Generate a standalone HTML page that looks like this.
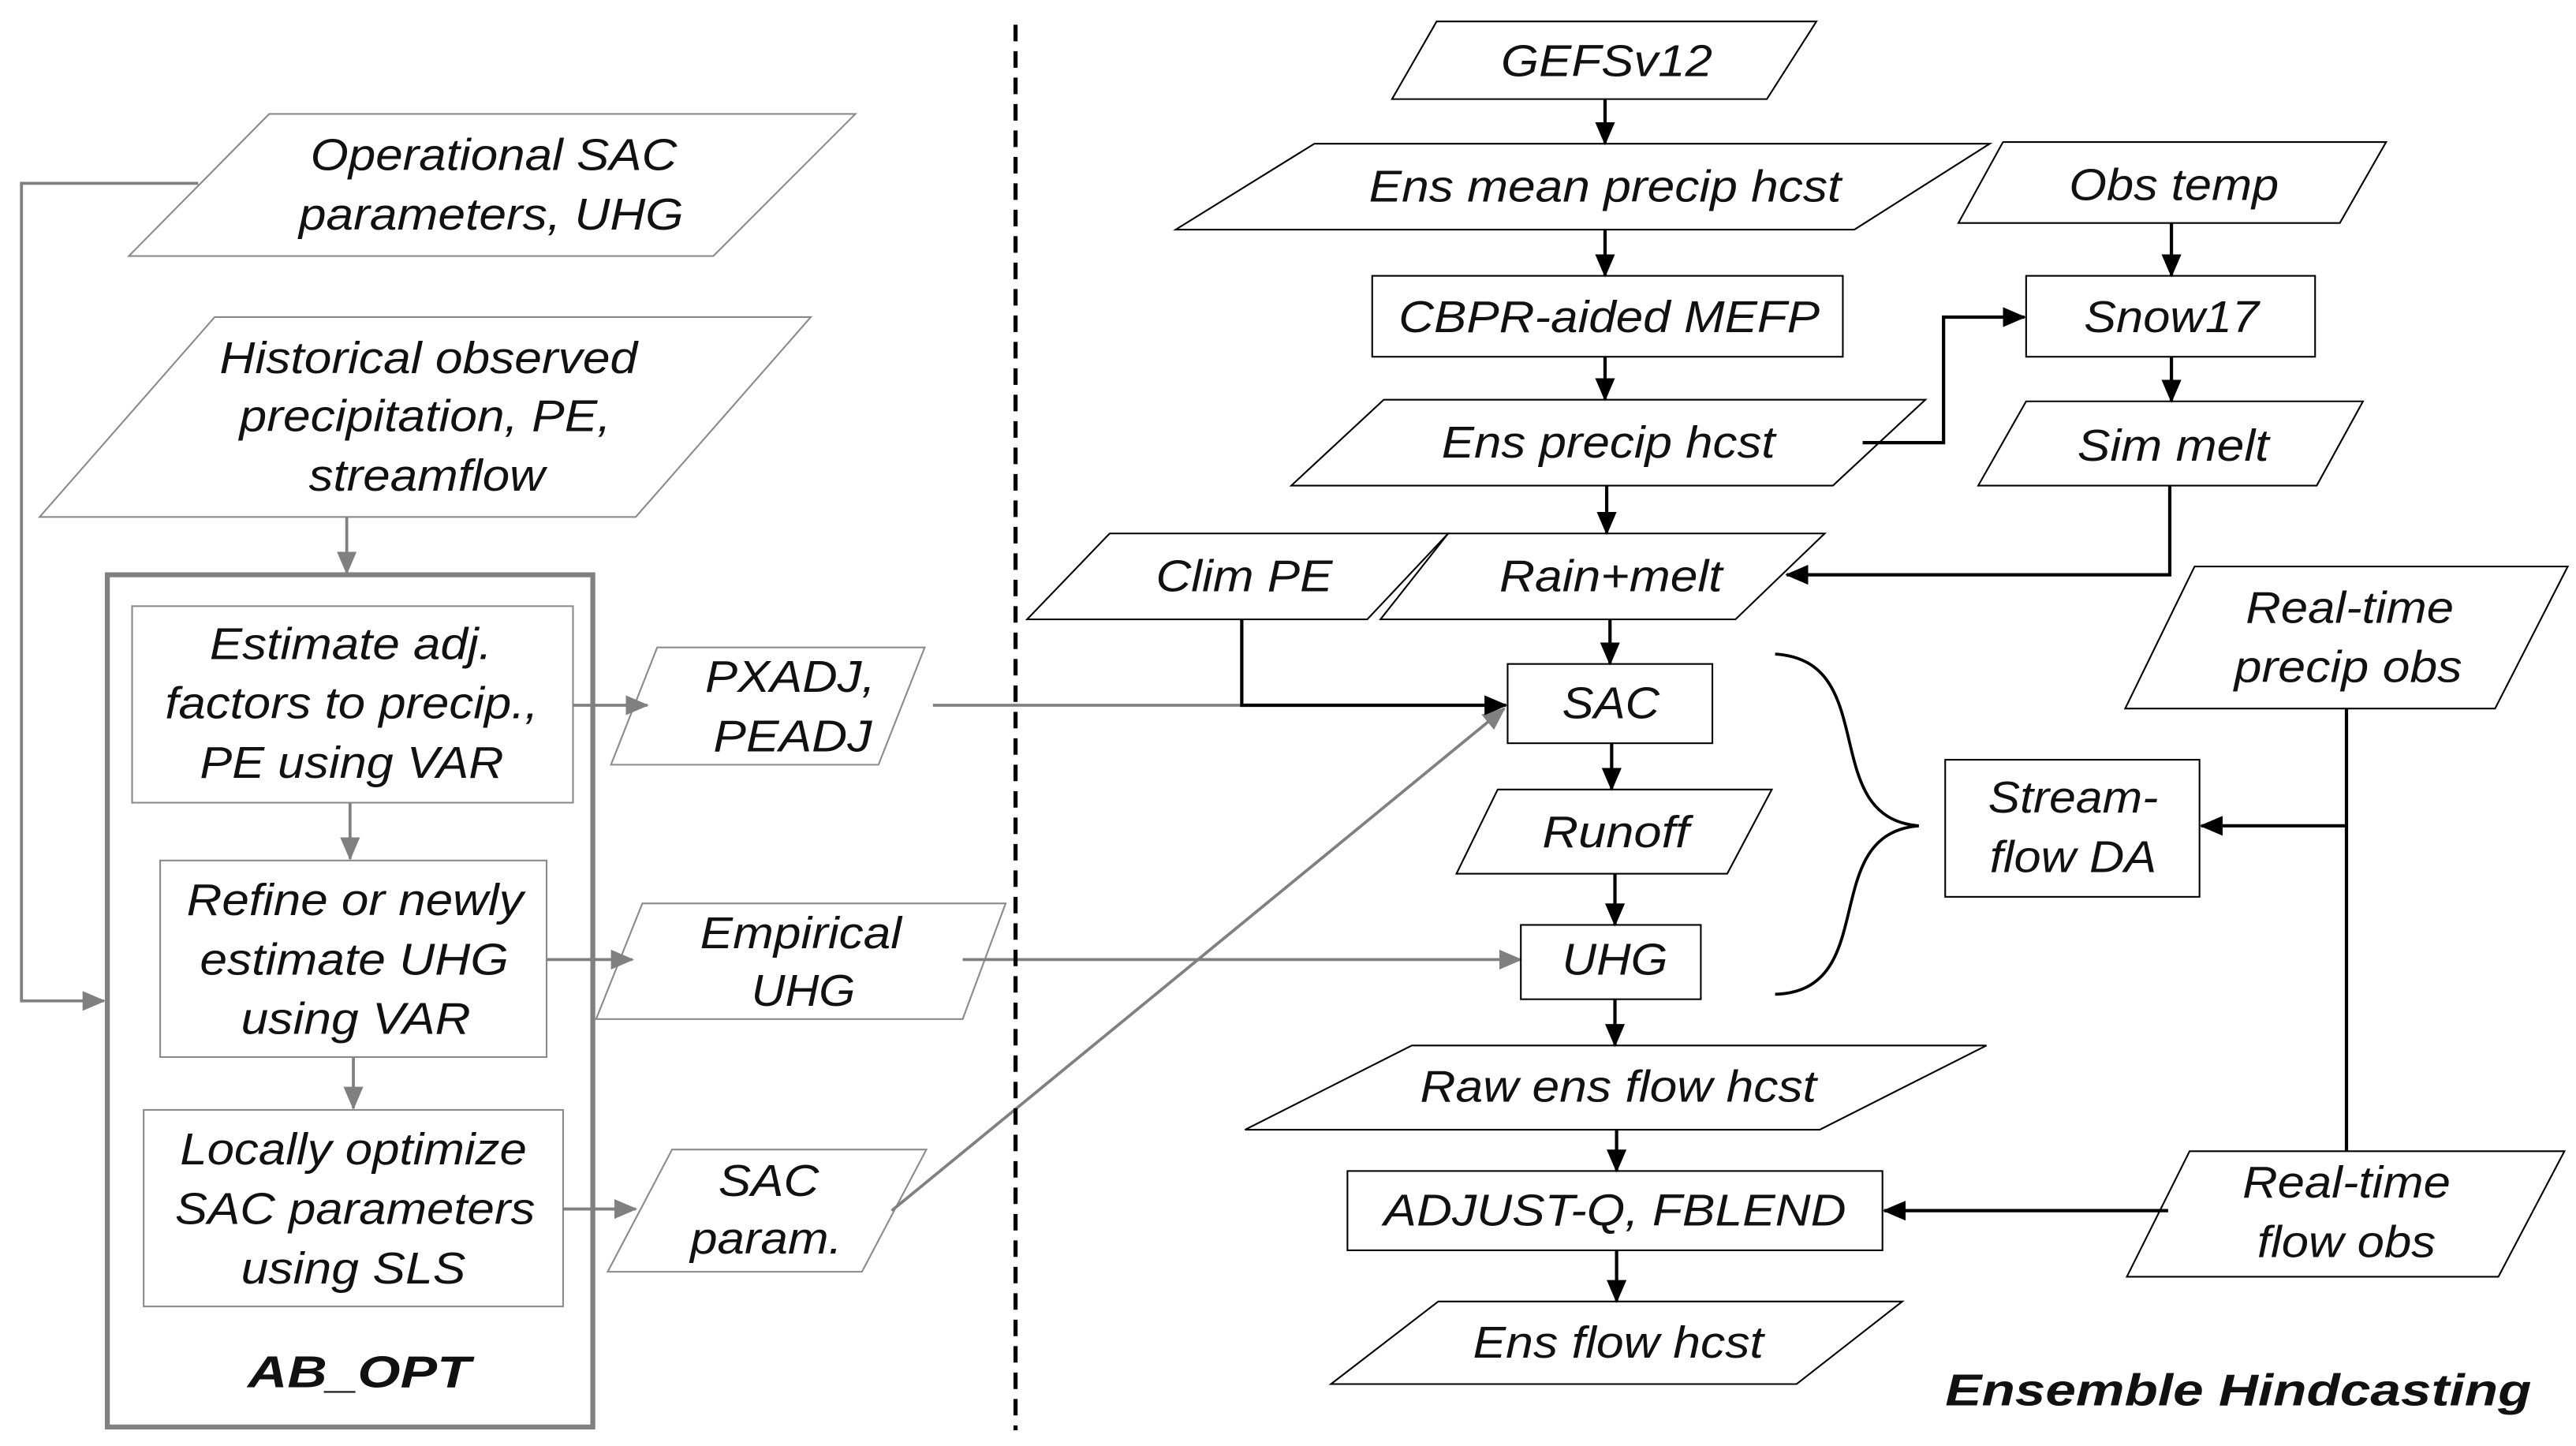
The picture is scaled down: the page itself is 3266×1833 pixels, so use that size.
<!DOCTYPE html>
<html><head><meta charset="utf-8"><style>
html,body{margin:0;padding:0;background:#fff;}
svg{display:block;}
text{font-family:"Liberation Sans",sans-serif;font-style:italic;font-size:27px;fill:#111;}
</style></head><body>
<svg width="3266" height="1833" viewBox="0 0 1560 875.5" preserveAspectRatio="none" xmlns="http://www.w3.org/2000/svg">
<defs>
<marker id="ab" markerWidth="14" markerHeight="12" refX="13" refY="6" orient="auto" markerUnits="userSpaceOnUse"><path d="M0,0 L14,6 L0,12 Z" fill="#000"/></marker>
<marker id="ag" markerWidth="14" markerHeight="12" refX="13" refY="6" orient="auto" markerUnits="userSpaceOnUse"><path d="M0,0 L14,6 L0,12 Z" fill="#808080"/></marker>
</defs>
<g fill="none" stroke="#8a8a8a" stroke-width="1">
<polygon points="163,69 518,69 432,155 78,155"/>
<polygon points="130,192 491,192 385,313 24,313"/>
<rect x="80" y="367" width="267" height="119"/>
<rect x="97" y="521" width="234" height="119"/>
<rect x="87" y="672" width="254" height="119"/>
<polygon points="398,392 560,392 532,463 370,463"/>
<polygon points="389,547 609,547 583,617 361,617"/>
<polygon points="407,696 561,696 522,770 368,770"/>
</g>
<rect x="65" y="348" width="294" height="516" fill="none" stroke="#808080" stroke-width="3"/>
<g fill="none" stroke="#808080" stroke-width="1.8">
<polyline points="120,111 13,111 13,606 63,606" marker-end="url(#ag)"/>
<line x1="210" y1="313" x2="210" y2="347" marker-end="url(#ag)"/>
<line x1="212" y1="486" x2="212" y2="520" marker-end="url(#ag)"/>
<line x1="214" y1="640" x2="214" y2="671" marker-end="url(#ag)"/>
<line x1="347" y1="427" x2="392" y2="427" marker-end="url(#ag)"/>
<line x1="331" y1="581" x2="383" y2="581" marker-end="url(#ag)"/>
<line x1="341" y1="732" x2="385" y2="732" marker-end="url(#ag)"/>
<line x1="565" y1="427" x2="752" y2="427"/>
<line x1="583" y1="581" x2="921" y2="581" marker-end="url(#ag)"/>
<line x1="540" y1="733" x2="911" y2="429" marker-end="url(#ag)"/>
</g>
<line x1="615" y1="15" x2="615" y2="866" stroke="#000" stroke-width="2.5" stroke-dasharray="10,6"/>
<g fill="none" stroke="#000" stroke-width="1">
<polygon points="870,13 1100,13 1070,60 843,60"/>
<polygon points="796,87 1205,87 1123,139 712,139"/>
<rect x="831" y="167" width="285" height="49"/>
<polygon points="838,242 1166,242 1110,294 782,294"/>
<polygon points="1213,86 1445,86 1417,135 1186,135"/>
<rect x="1227" y="167" width="175" height="49"/>
<polygon points="1227,243 1431,243 1403,294 1198,294"/>
<polygon points="672,323 877,323 828,375 622,375"/>
<polygon points="877,323 1105,323 1051,375 836,375"/>
<rect x="913" y="402" width="124" height="48"/>
<polygon points="907,478 1073,478 1046,529 882,529"/>
<rect x="921" y="560" width="109" height="45"/>
<polygon points="855,633 1203,633 1102,684 754,684"/>
<rect x="816" y="709" width="324" height="48"/>
<polygon points="871,788 1152,788 1088,838 806,838"/>
<rect x="1178" y="460" width="154" height="83"/>
<polygon points="1329,343 1555,343 1511,429 1287,429"/>
<polygon points="1326,697 1553,697 1513,773 1288,773"/>
<path d="M1075,396 C1140,400 1100,495 1162,500 C1100,505 1140,600 1075,602" stroke-width="1.8"/>
</g>
<g fill="none" stroke="#000" stroke-width="2">
<line x1="972" y1="60" x2="972" y2="87" marker-end="url(#ab)"/>
<line x1="972" y1="139" x2="972" y2="167" marker-end="url(#ab)"/>
<line x1="972" y1="216" x2="972" y2="242" marker-end="url(#ab)"/>
<line x1="973" y1="294" x2="973" y2="323" marker-end="url(#ab)"/>
<polyline points="1128,268 1177,268 1177,192 1226,192" marker-end="url(#ab)"/>
<line x1="1315" y1="135" x2="1315" y2="167" marker-end="url(#ab)"/>
<line x1="1315" y1="216" x2="1315" y2="243" marker-end="url(#ab)"/>
<polyline points="1314,294 1314,348 1082,348" marker-end="url(#ab)"/>
<line x1="975" y1="375" x2="975" y2="402" marker-end="url(#ab)"/>
<polyline points="752,375 752,427 912,427" marker-end="url(#ab)"/>
<line x1="976" y1="450" x2="976" y2="478" marker-end="url(#ab)"/>
<line x1="978" y1="529" x2="978" y2="560" marker-end="url(#ab)"/>
<line x1="978" y1="605" x2="978" y2="633" marker-end="url(#ab)"/>
<line x1="979" y1="684" x2="979" y2="709" marker-end="url(#ab)"/>
<line x1="979" y1="757" x2="979" y2="788" marker-end="url(#ab)"/>
<line x1="1421" y1="429" x2="1421" y2="697"/>
<line x1="1421" y1="500" x2="1333" y2="500" marker-end="url(#ab)"/>
<line x1="1313" y1="733" x2="1141" y2="733" marker-end="url(#ab)"/>
</g>
<g text-anchor="start">
<text x="188" y="103" textLength="222" lengthAdjust="spacingAndGlyphs">Operational SAC</text>
<text x="181" y="139" textLength="233" lengthAdjust="spacingAndGlyphs">parameters, UHG</text>
<text x="133" y="226" textLength="253" lengthAdjust="spacingAndGlyphs">Historical observed</text>
<text x="145" y="261" textLength="225" lengthAdjust="spacingAndGlyphs">precipitation, PE,</text>
<text x="187" y="297" textLength="143" lengthAdjust="spacingAndGlyphs">streamflow</text>
<text x="127" y="399" textLength="171" lengthAdjust="spacingAndGlyphs">Estimate adj.</text>
<text x="100" y="435" textLength="226" lengthAdjust="spacingAndGlyphs">factors to precip.,</text>
<text x="121" y="471" textLength="184" lengthAdjust="spacingAndGlyphs">PE using VAR</text>
<text x="113" y="554" textLength="204" lengthAdjust="spacingAndGlyphs">Refine or newly</text>
<text x="121" y="590" textLength="187" lengthAdjust="spacingAndGlyphs">estimate UHG</text>
<text x="146" y="626" textLength="139" lengthAdjust="spacingAndGlyphs">using VAR</text>
<text x="109" y="705" textLength="210" lengthAdjust="spacingAndGlyphs">Locally optimize</text>
<text x="106" y="741" textLength="218" lengthAdjust="spacingAndGlyphs">SAC parameters</text>
<text x="146" y="777" textLength="136" lengthAdjust="spacingAndGlyphs">using SLS</text>
<text x="150" y="840" textLength="135" lengthAdjust="spacingAndGlyphs" font-weight="bold" font-size="30">AB_OPT</text>
<text x="427" y="419" textLength="103" lengthAdjust="spacingAndGlyphs">PXADJ,</text>
<text x="432" y="455" textLength="96" lengthAdjust="spacingAndGlyphs">PEADJ</text>
<text x="424" y="574" textLength="122" lengthAdjust="spacingAndGlyphs">Empirical</text>
<text x="455" y="609" textLength="63" lengthAdjust="spacingAndGlyphs">UHG</text>
<text x="435" y="724" textLength="61" lengthAdjust="spacingAndGlyphs">SAC</text>
<text x="418" y="759" textLength="92" lengthAdjust="spacingAndGlyphs">param.</text>
<text x="909" y="46" textLength="128" lengthAdjust="spacingAndGlyphs">GEFSv12</text>
<text x="829" y="122" textLength="286" lengthAdjust="spacingAndGlyphs">Ens mean precip hcst</text>
<text x="1253" y="121" textLength="127" lengthAdjust="spacingAndGlyphs">Obs temp</text>
<text x="847" y="201" textLength="255" lengthAdjust="spacingAndGlyphs">CBPR-aided MEFP</text>
<text x="1262" y="201" textLength="106" lengthAdjust="spacingAndGlyphs">Snow17</text>
<text x="873" y="277" textLength="202" lengthAdjust="spacingAndGlyphs">Ens precip hcst</text>
<text x="1258" y="279" textLength="116" lengthAdjust="spacingAndGlyphs">Sim melt</text>
<text x="700" y="358" textLength="107" lengthAdjust="spacingAndGlyphs">Clim PE</text>
<text x="908" y="358" textLength="135" lengthAdjust="spacingAndGlyphs">Rain+melt</text>
<text x="946" y="435" textLength="59" lengthAdjust="spacingAndGlyphs">SAC</text>
<text x="934" y="513" textLength="89" lengthAdjust="spacingAndGlyphs">Runoff</text>
<text x="946" y="590" textLength="64" lengthAdjust="spacingAndGlyphs">UHG</text>
<text x="860" y="667" textLength="240" lengthAdjust="spacingAndGlyphs">Raw ens flow hcst</text>
<text x="838" y="742" textLength="280" lengthAdjust="spacingAndGlyphs">ADJUST-Q, FBLEND</text>
<text x="892" y="822" textLength="176" lengthAdjust="spacingAndGlyphs">Ens flow hcst</text>
<text x="1204" y="492" textLength="103" lengthAdjust="spacingAndGlyphs">Stream-</text>
<text x="1205" y="528" textLength="101" lengthAdjust="spacingAndGlyphs">flow DA</text>
<text x="1360" y="377" textLength="126" lengthAdjust="spacingAndGlyphs">Real-time</text>
<text x="1353" y="413" textLength="138" lengthAdjust="spacingAndGlyphs">precip obs</text>
<text x="1358" y="725" textLength="126" lengthAdjust="spacingAndGlyphs">Real-time</text>
<text x="1367" y="761" textLength="108" lengthAdjust="spacingAndGlyphs">flow obs</text>
<text x="1178" y="851" textLength="355" lengthAdjust="spacingAndGlyphs" font-weight="bold" font-size="32">Ensemble Hindcasting</text>
</g>
</svg>
</body></html>
